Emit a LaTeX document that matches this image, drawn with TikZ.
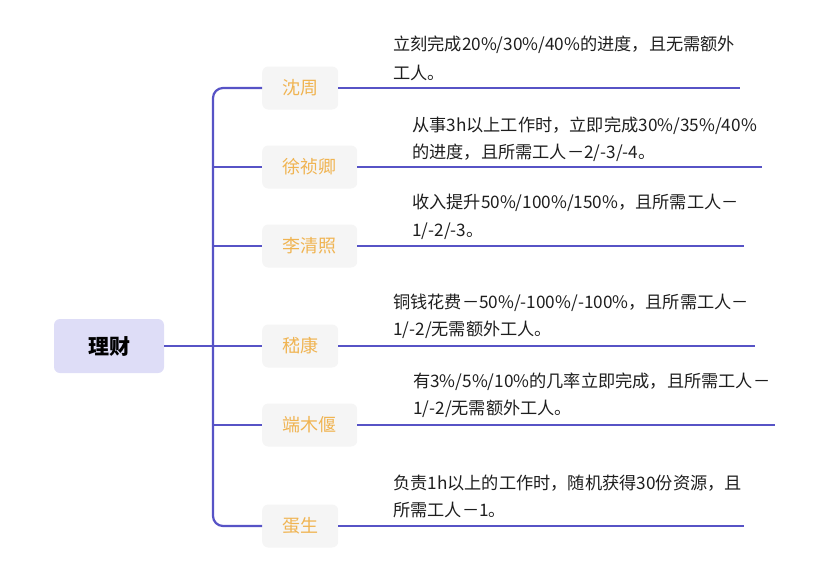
\documentclass[tikz,border=0pt]{standalone}
\usepackage{fontspec}
\setmainfont{Noto Sans CJK SC}
\definecolor{lineblue}{HTML}{5753C6}
\definecolor{rootfill}{HTML}{DEDDF7}
\definecolor{kidfill}{HTML}{F5F5F5}
\definecolor{kidtext}{HTML}{F0B452}
\definecolor{bodytext}{HTML}{1E1E1E}
\begin{document}
\begin{tikzpicture}[x=1pt,y=-1pt,
  rootbox/.style={fill=rootfill,rounded corners=6pt,minimum width=110pt,minimum height=54pt,inner sep=0pt,font=\fontsize{21}{24}\selectfont\bfseries,text=black},
  kidbox/.style={fill=kidfill,rounded corners=6pt,minimum height=43pt,inner sep=0pt,anchor=west,font=\fontsize{18}{22}\selectfont,text=kidtext},
  desc/.style={anchor=west,inner sep=0pt,font=\fontsize{17.2}{20}\selectfont,text=bodytext},
  conn/.style={draw=lineblue,line width=2.2pt}]
\useasboundingbox (0,0) rectangle (828,574);
% root
\node[rootbox] (root) at (109,346) {理财};
% children
\node[kidbox,minimum width=76pt] (c1) at (262,88) {沈周};
\node[kidbox,minimum width=95pt] (c2) at (262,167) {徐祯卿};
\node[kidbox,minimum width=95pt] (c3) at (262,246) {李清照};
\node[kidbox,minimum width=76pt] (c4) at (262,346) {嵇康};
\node[kidbox,minimum width=95pt] (c5) at (262,425) {端木偃};
\node[kidbox,minimum width=76pt] (c6) at (262,526) {蛋生};
% trunk coordinate
\coordinate (tk) at (213,346);
% line ends
\coordinate (e1) at (740,88);
\coordinate (e2) at (762,167);
\coordinate (e3) at (744,246);
\coordinate (e4) at (755,346);
\coordinate (e5) at (775,425);
\coordinate (e6) at (744,526);
% trunk and branches
\draw[conn,rounded corners=10pt] (c1.west) -| (tk) |- (c6.west);
\draw[conn] (c2.west -| tk) -- (c2.west);
\draw[conn] (c3.west -| tk) -- (c3.west);
\draw[conn] (c5.west -| tk) -- (c5.west);
\draw[conn] (root.east) -- (c4.west);
% leaf lines
\draw[conn] (c1.east) -- (e1);
\draw[conn] (c2.east) -- (e2);
\draw[conn] (c3.east) -- (e3);
\draw[conn] (c4.east) -- (e4);
\draw[conn] (c5.east) -- (e5);
\draw[conn] (c6.east) -- (e6);
% descriptions
\node[desc] (d1a) at (393,45) {立刻完成20\%/30\%/40\%的进度，且无需额外};
\node[desc] (d1b) at (393,73) {工人。};
\node[desc] (d2a) at (412,126) {从事3h以上工作时，立即完成30\%/35\%/40\%};
\node[desc] (d2b) at (412,153) {的进度，且所需工人－2/-3/-4。};
\node[desc] (d3a) at (412,203) {收入提升50\%/100\%/150\%，且所需工人－};
\node[desc] (d3b) at (412,231) {1/-2/-3。};
\node[desc] (d4a) at (393,303) {铜钱花费－50\%/-100\%/-100\%，且所需工人－};
\node[desc] (d4b) at (393,330) {1/-2/无需额外工人。};
\node[desc] (d5a) at (413,382) {有3\%/5\%/10\%的几率立即完成，且所需工人－};
\node[desc] (d5b) at (413,409) {1/-2/无需额外工人。};
\node[desc] (d6a) at (393,483) {负责1h以上的工作时，随机获得30份资源，且};
\node[desc] (d6b) at (393,510) {所需工人－1。};
\end{tikzpicture}
\end{document}
